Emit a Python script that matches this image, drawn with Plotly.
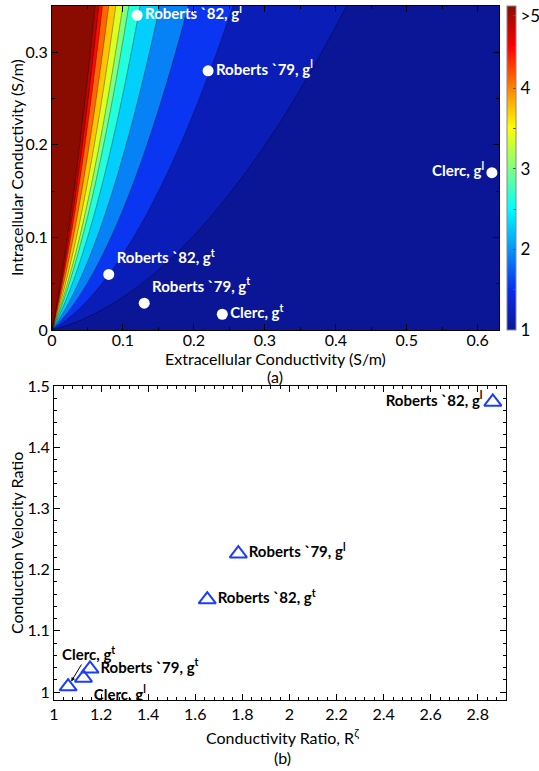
import numpy as np
import plotly.graph_objects as go

# ---------------- data: panel (a) ----------------
# x positions (S/m) where each contour boundary meets the top edge (gi = 0.35)
boundary_x_top = [0.415, 0.255, 0.192, 0.152, 0.124, 0.108, 0.100, 0.090, 0.080, 0.071, 0.066, 0.061]
boundary_levels = [4/3, 5/3, 2.0, 7/3, 8/3, 3.0, 10/3, 11/3, 4.0, 13/3, 14/3, 5.0]
shape_a, shape_b = 0.2, 1.55  # curvature of the iso-lines

pts_a_names = ["Roberts `82, g<sup>l</sup>", "Roberts `79, g<sup>l</sup>", "Clerc, g<sup>l</sup>",
               "Roberts `82, g<sup>t</sup>", "Roberts `79, g<sup>t</sup>", "Clerc, g<sup>t</sup>"]
pts_a_ge = [0.12, 0.22, 0.62, 0.08, 0.13, 0.24]
pts_a_gi = [0.34, 0.28, 0.17, 0.06, 0.029, 0.017]
pts_a_pos = ["middle right", "middle right", "middle left", "top right", "top right", "middle right"]

cbar_vals = [1, 1.5, 2, 2.5, 3, 3.5, 4, 4.5, 4.9]
cbar_text = ["1", "", "2", "", "3", "", "4", "", "&gt;5"]

# ---------------- data: panel (b) ----------------
pts_b_names = ["Roberts `82, g<sup>l</sup>", "Roberts `79, g<sup>l</sup>", "Roberts `82, g<sup>t</sup>",
               "Roberts `79, g<sup>t</sup>", "Clerc, g<sup>l</sup>"]
pts_b_R = [2.864, 1.783, 1.651, 1.153, 1.125]
pts_b_cv = [1.474, 1.226, 1.151, 1.038, 1.023]
pts_b_pos = ["middle left", "middle right", "middle right", "middle right", "bottom right"]
clerc_t_R, clerc_t_cv = 1.06, 1.009

W, H = 539, 771

# ---------------- build contour field ----------------
xg = np.linspace(0, 0.63, 320)
yg = np.linspace(0, 0.35, 200)
X, Y = np.meshgrid(xg, yg)
xs = np.maximum(X, 1e-6)
bx = np.array(boundary_x_top)
t_b = 0.35 / (bx * (shape_a + shape_b * bx))
t = Y / (xs * (shape_a + shape_b * xs))
t_knots = np.concatenate([[0.0], t_b])
z_knots = np.concatenate([[1.0], boundary_levels])
Z = np.interp(t, t_knots, z_knots)
tmax = t_b[-1]
Z = np.where(t > tmax, 5.0 + np.minimum((t - tmax) / tmax, 1.0), Z)

jet = [[0, "#0a1696"], [0.125, "#0a2cf0"], [0.375, "#00ffff"], [0.625, "#ffff00"],
       [0.875, "#ff0000"], [1, "#8a0c00"]]

fig = go.Figure()
fig.add_trace(go.Contour(
    x=xg, y=yg, z=Z, colorscale=jet, zmin=1, zmax=5, showscale=False,
    contours=dict(start=4/3, end=5, size=1/3, coloring="fill"),
    line=dict(width=0.6, color="rgba(0,0,0,0.55)"),
    xaxis="x", yaxis="y", hoverinfo="skip"))

# continuous colour bar (no visible marks)
fig.add_trace(go.Scatter(
    x=[None, None], y=[None, None], mode="markers", xaxis="x", yaxis="y", hoverinfo="skip",
    marker=dict(color=[1, 5.02], colorscale=jet, cmin=1, cmax=5.02, showscale=True,
                colorbar=dict(x=507 / W, xanchor="left", y=1 - 168 / H, yanchor="middle",
                              len=324 / H, lenmode="fraction", thickness=9, xpad=0, ypad=0,
                              tickvals=cbar_vals, ticktext=cbar_text, ticks="inside", ticklen=3,
                              tickcolor="#555", ticklabeloverflow="allow",
                              tickfont=dict(size=17, color="black", family="Lato"),
                              outlinewidth=1, outlinecolor="#888")),
    showlegend=False))

fig.add_trace(go.Scatter(
    x=pts_a_ge, y=pts_a_gi, mode="markers+text", text=pts_a_names,
    textposition=pts_a_pos, marker=dict(color="white", size=11),
    textfont=dict(color="white", size=15, family="Lato", weight="bold"),
    xaxis="x", yaxis="y", showlegend=False))

fig.add_trace(go.Scatter(
    x=pts_b_R, y=pts_b_cv, mode="markers+text", text=pts_b_names,
    textposition=pts_b_pos,
    marker=dict(symbol="triangle-up-open", color="#1a3cff", size=15, line=dict(width=2)),
    textfont=dict(color="black", size=15, family="Lato", weight="bold"),
    xaxis="x2", yaxis="y2", showlegend=False))

fig.add_trace(go.Scatter(
    x=[clerc_t_R], y=[clerc_t_cv], mode="markers",
    marker=dict(symbol="triangle-up-open", color="#1a3cff", size=15, line=dict(width=2)),
    xaxis="x2", yaxis="y2", showlegend=False))

axis_common = dict(showline=True, linecolor="black", linewidth=1, mirror="allticks",
                   ticks="inside", ticklen=6, tickcolor="black", showgrid=False,
                   zeroline=False, tickfont=dict(size=16, color="black", family="Lato"),
                   automargin=False)

fig.update_layout(
    width=W, height=H, margin=dict(l=0, r=0, t=0, b=0, autoexpand=False),
    paper_bgcolor="white", plot_bgcolor="white",
    font=dict(family="Lato", color="black"),
    showlegend=False,
    xaxis=dict(domain=[52 / W, 499 / W], range=[0, 0.63], tickvals=[0, 0.1, 0.2, 0.3, 0.4, 0.5, 0.6],
               ticktext=["0", "0.1", "0.2", "0.3", "0.4", "0.5", "0.6"], ticklabelstandoff=-4,
               minor=dict(dtick=0.05, ticks="inside", ticklen=3, tickcolor="black"),
               anchor="y", **axis_common),
    yaxis=dict(domain=[1 - 330 / H, 1 - 6 / H], range=[0, 0.35], tickvals=[0, 0.1, 0.2, 0.3],
               ticktext=["0", "0.1", "0.2", "0.3"],
               minor=dict(dtick=0.05, ticks="inside", ticklen=3, tickcolor="black"),
               anchor="x", **axis_common),
    xaxis2=dict(domain=[54 / W, 506 / W], range=[1, 2.92],
                tickvals=[1, 1.2, 1.4, 1.6, 1.8, 2, 2.2, 2.4, 2.6, 2.8],
                ticktext=["1", "1.2", "1.4", "1.6", "1.8", "2", "2.2", "2.4", "2.6", "2.8"],
                minor=dict(dtick=0.04, tick0=1, ticks="inside", ticklen=3, tickcolor="black"),
                anchor="y2", **axis_common),
    yaxis2=dict(domain=[1 - 700 / H, 1 - 386 / H], range=[0.987, 1.5],
                tickvals=[1, 1.1, 1.2, 1.3, 1.4, 1.5], ticktext=["1", "1.1", "1.2", "1.3", "1.4", "1.5"],
                minor=dict(dtick=0.02, tick0=1, ticks="inside", ticklen=3, tickcolor="black"),
                anchor="x2", **axis_common),
)

ann_font = dict(size=16, color="black", family="Lato")


def label(text, px, py, angle=0):
    fig.add_annotation(text=text, x=px / W, y=1 - py / H, xref="paper", yref="paper",
                       xanchor="center", yanchor="middle", showarrow=False,
                       textangle=angle, font=ann_font)


label("Extracellular Conductivity (S/m)", 275, 358)
label("(a)", 275, 376)
label("Intracellular Conductivity (S/m)", 16, 168, -90)
label("Conductivity Ratio, R<sup>ζ</sup>", 282, 736)
label("(b)", 282, 757)
label("Conduction Velocity Ratio", 16, 543, -90)

fig.add_annotation(text="<b>Clerc, g<sup>t</sup></b>", x=clerc_t_R, y=clerc_t_cv, xref="x2", yref="y2",
                   ax=20, ay=-33, showarrow=True, arrowhead=2, arrowsize=0.8, arrowwidth=1,
                   arrowcolor="black", standoff=6, font=dict(size=15, color="black", family="Lato"))

fig.write_html("out.html", config={"displayModeBar": False},
               post_script="document.body.style.margin='0';document.body.style.overflow='hidden';")
